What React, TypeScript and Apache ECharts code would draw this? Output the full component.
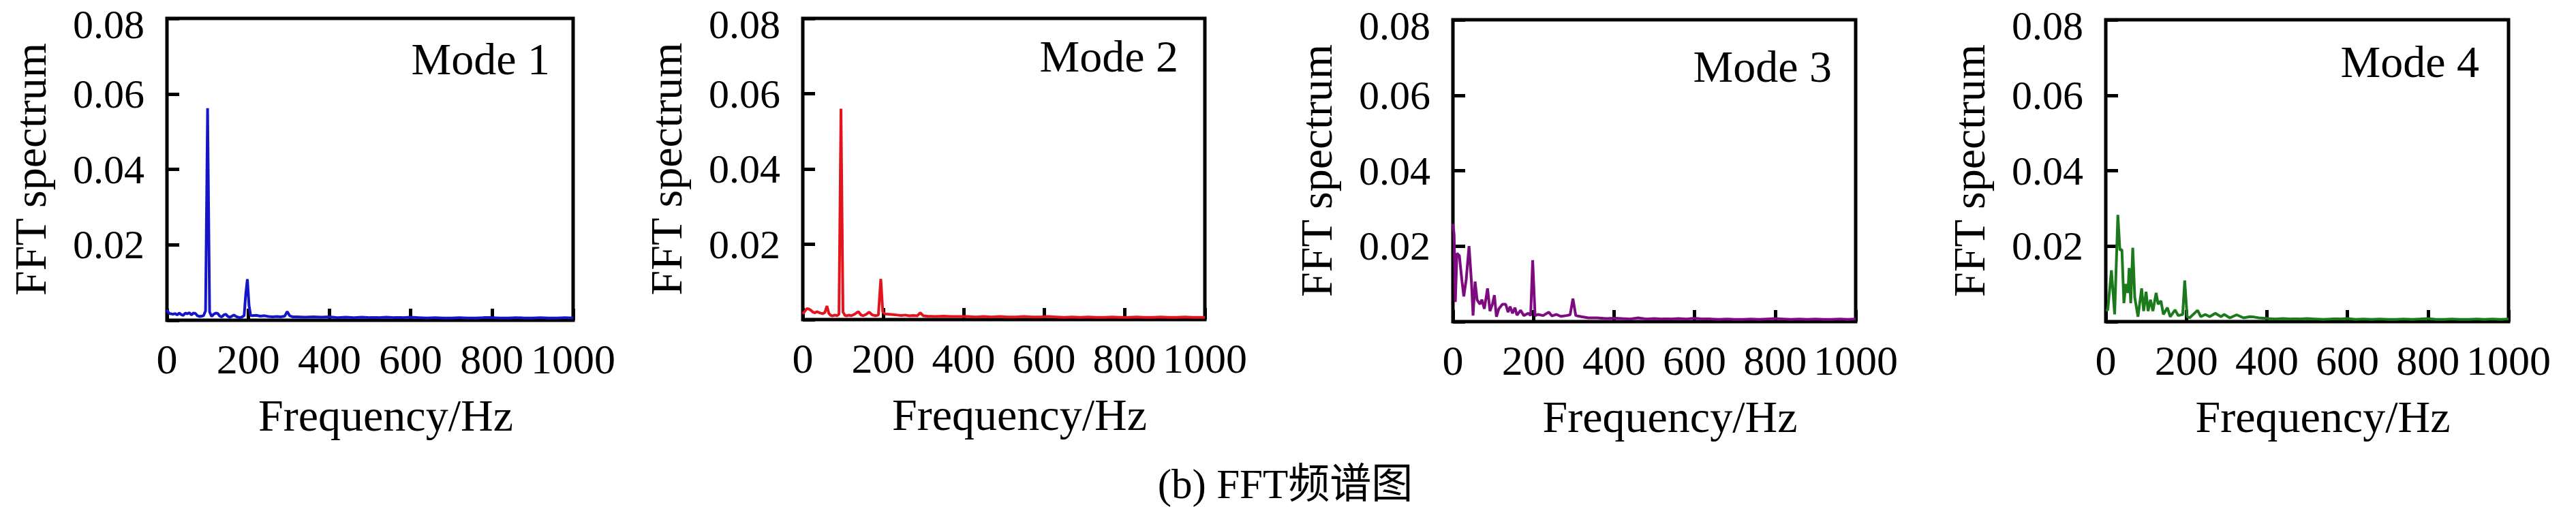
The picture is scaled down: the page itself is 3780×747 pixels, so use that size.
import React, { useEffect, useRef } from "react";
import * as echarts from "echarts";

// ---------- data (frequency in Hz, FFT amplitude) ----------
const xTicks = [0, 200, 400, 600, 800, 1000];
const yTicks = [0, 0.02, 0.04, 0.06, 0.08];
const modeNames = ["Mode 1", "Mode 2", "Mode 3", "Mode 4"];
const modeColors = ["#1414c8", "#e3141c", "#7e0a80", "#1c7a1c"];

const mode1Spectrum: [number, number][] = [
  [0, 0.0028], [5, 0.0018], [10, 0.0017], [15, 0.0016], [20, 0.0018], [25, 0.0014],
  [30, 0.0019], [35, 0.0015], [40, 0.0013], [45, 0.0019], [50, 0.0017], [55, 0.002],
  [60, 0.0014], [65, 0.0019], [70, 0.0018], [75, 0.0012], [80, 0.001], [85, 0.0011],
  [90, 0.0012], [95, 0.0025], [100, 0.0562], [105, 0.0022], [110, 0.001], [115, 0.0016],
  [120, 0.0019], [125, 0.0018], [130, 0.0011], [135, 0.0009], [140, 0.0014], [145, 0.0016],
  [150, 0.001], [155, 0.0008], [160, 0.0011], [165, 0.0014], [170, 0.001], [175, 0.0008],
  [180, 0.0007], [185, 0.0009], [190, 0.0012], [194, 0.007], [198, 0.0109], [202, 0.004],
  [206, 0.0013], [210, 0.0012], [220, 0.0013], [230, 0.0011], [240, 0.0012], [250, 0.001],
  [260, 0.0009], [270, 0.001], [280, 0.0009], [290, 0.0011], [296, 0.0023], [302, 0.0012],
  [310, 0.0009], [320, 0.0009], [340, 0.0008], [360, 0.0009], [380, 0.0008], [400, 0.0009],
  [420, 0.0007], [440, 0.0008], [460, 0.0007], [480, 0.0008], [500, 0.0007], [520, 0.0007],
  [540, 0.0008], [560, 0.0007], [580, 0.0007], [600, 0.0008], [620, 0.0007], [640, 0.0006],
  [660, 0.0007], [680, 0.0006], [700, 0.0006], [720, 0.0007], [740, 0.0006], [760, 0.0006],
  [780, 0.0007], [800, 0.0007], [820, 0.0006], [840, 0.0006], [860, 0.0007], [880, 0.0006],
  [900, 0.0006], [920, 0.0007], [940, 0.0006], [960, 0.0006], [980, 0.0007], [1000, 0.0006],
];

const mode2Spectrum: [number, number][] = [
  [0, 0.0015], [5, 0.0022], [10, 0.0029], [15, 0.0028], [20, 0.0025], [25, 0.002],
  [30, 0.0018], [35, 0.0021], [40, 0.0019], [45, 0.0017], [50, 0.0016], [55, 0.0019],
  [60, 0.0036], [65, 0.0016], [70, 0.0011], [75, 0.001], [80, 0.0012], [85, 0.001],
  [90, 0.0014], [95, 0.056], [100, 0.002], [105, 0.0011], [110, 0.001], [115, 0.0012],
  [120, 0.001], [130, 0.0015], [138, 0.0021], [145, 0.0012], [150, 0.001], [158, 0.0014],
  [165, 0.002], [172, 0.0013], [180, 0.001], [188, 0.0012], [194, 0.0108], [199, 0.002],
  [205, 0.0015], [215, 0.0014], [225, 0.0013], [235, 0.0012], [245, 0.0011], [255, 0.0012],
  [265, 0.001], [275, 0.0011], [285, 0.001], [292, 0.0018], [300, 0.001], [310, 0.0009],
  [330, 0.0008], [350, 0.0009], [370, 0.0008], [390, 0.0008], [410, 0.0008], [430, 0.0007],
  [450, 0.0008], [470, 0.0007], [490, 0.0008], [510, 0.0007], [530, 0.0007], [550, 0.0008],
  [570, 0.0007], [590, 0.0007], [610, 0.0008], [630, 0.0007], [650, 0.0006], [670, 0.0007],
  [690, 0.0006], [710, 0.0007], [730, 0.0006], [750, 0.0006], [770, 0.0007], [790, 0.0006],
  [810, 0.0006], [830, 0.0007], [850, 0.0006], [870, 0.0006], [890, 0.0007], [910, 0.0006],
  [930, 0.0006], [950, 0.0007], [970, 0.0006], [1000, 0.0006],
];

const mode3Spectrum: [number, number][] = [
  [0, 0.0259], [3, 0.023], [6, 0.0052], [10, 0.0181], [16, 0.0175], [22, 0.0112],
  [27, 0.0067], [33, 0.0112], [40, 0.02], [46, 0.0106], [50, 0.0016], [55, 0.0106],
  [60, 0.0058], [67, 0.0046], [72, 0.0058], [78, 0.0034], [86, 0.0088], [92, 0.0028],
  [98, 0.0046], [103, 0.007], [108, 0.0013], [114, 0.0034], [123, 0.0046], [131, 0.0046],
  [137, 0.0025], [142, 0.004], [148, 0.0022], [154, 0.0037], [159, 0.0017], [168, 0.003],
  [176, 0.0016], [187, 0.0022], [193, 0.0016], [198, 0.0163], [204, 0.0016], [212, 0.0019],
  [224, 0.0016], [238, 0.0025], [246, 0.0015], [257, 0.0019], [268, 0.0014], [282, 0.0016],
  [291, 0.0018], [298, 0.0061], [305, 0.0016], [319, 0.0013], [336, 0.001], [358, 0.001],
  [380, 0.0008], [403, 0.0009], [420, 0.0008], [440, 0.0007], [460, 0.001], [480, 0.0007],
  [500, 0.0008], [520, 0.0007], [540, 0.0007], [560, 0.0008], [580, 0.0007], [600, 0.0009],
  [620, 0.0007], [640, 0.0007], [660, 0.0006], [680, 0.0007], [700, 0.0006], [720, 0.0006],
  [740, 0.0007], [760, 0.0006], [780, 0.0007], [800, 0.0008], [820, 0.0007], [840, 0.0006],
  [860, 0.0007], [880, 0.0006], [900, 0.0007], [920, 0.0006], [940, 0.0006], [960, 0.0007],
  [980, 0.0006], [1000, 0.0007],
];

const mode4Spectrum: [number, number][] = [
  [0, 0.003], [5, 0.0031], [14, 0.0136], [22, 0.0019], [30, 0.0283], [35, 0.019],
  [40, 0.0191], [45, 0.0049], [50, 0.01], [55, 0.0076], [58, 0.0142], [62, 0.0049],
  [67, 0.0196], [72, 0.0064], [80, 0.0013], [89, 0.0088], [94, 0.0028], [100, 0.0079],
  [105, 0.0028], [111, 0.0058], [117, 0.0028], [125, 0.0076], [130, 0.0046], [137, 0.0055],
  [143, 0.0019], [153, 0.0037], [160, 0.0013], [172, 0.0031], [180, 0.0016], [191, 0.0019],
  [196, 0.0109], [202, 0.0013], [208, 0.001], [228, 0.003], [236, 0.0013], [247, 0.0019],
  [258, 0.0013], [272, 0.0022], [286, 0.0013], [294, 0.0019], [308, 0.001], [325, 0.0018],
  [342, 0.001], [358, 0.0013], [369, 0.0012], [380, 0.001], [403, 0.0008], [420, 0.0007],
  [440, 0.0008], [460, 0.0007], [480, 0.0007], [500, 0.0008], [520, 0.0007], [540, 0.0006],
  [560, 0.0007], [580, 0.0007], [600, 0.0008], [620, 0.0006], [640, 0.0007], [660, 0.0006],
  [680, 0.0007], [700, 0.0006], [720, 0.0006], [740, 0.0007], [760, 0.0006], [780, 0.0007],
  [800, 0.0008], [820, 0.0006], [840, 0.0006], [860, 0.0007], [880, 0.0006], [900, 0.0006],
  [920, 0.0007], [940, 0.0006], [960, 0.0007], [980, 0.0006], [1000, 0.0007],
];

const spectra = [mode1Spectrum, mode2Spectrum, mode3Spectrum, mode4Spectrum];
const caption = "(b) FFT频谱图";
const xAxisName = "Frequency/Hz";
const yAxisName = "FFT spectrum";

// ---------- layout ----------
const panels = [
  { left: 245, top: 27, width: 596, height: 443, modeX: 807, modeY: 86 },
  { left: 1178, top: 27, width: 590, height: 442, modeX: 1729, modeY: 82 },
  { left: 2132, top: 29, width: 591, height: 443, modeX: 2688, modeY: 97 },
  { left: 3090, top: 29, width: 591, height: 443, modeX: 3638, modeY: 90 },
];

const SERIF = "'Liberation Serif', 'Times New Roman', 'Noto Sans CJK SC', serif";
const Y_MAX = yTicks[yTicks.length - 1];

function buildOption(): echarts.EChartsOption {
  const grid = panels.map((p) => ({
    left: p.left,
    top: p.top,
    width: p.width,
    height: p.height,
    show: true,
    borderColor: "#000",
    borderWidth: 5,
    backgroundColor: "transparent",
    containLabel: false,
  }));
  const xAxis = panels.map((_, i) => ({
    type: "value" as const,
    gridIndex: i,
    min: xTicks[0],
    max: xTicks[xTicks.length - 1],
    interval: xTicks[1] - xTicks[0],
    axisLine: { show: false },
    axisTick: { show: true, inside: true, length: 17, lineStyle: { color: "#000", width: 5 } },
    splitLine: { show: false },
    axisLabel: {
      fontSize: 62,
      fontFamily: SERIF,
      color: "#000",
      margin: 26,
      formatter: (v: number) => String(v),
    },
    name: xAxisName,
    nameLocation: "middle" as const,
    nameGap: 106,
    nameTextStyle: { fontSize: 66, fontFamily: SERIF, color: "#000", padding: [0, 0, 0, 46] },
  }));
  const yAxis = panels.map((_, i) => ({
    type: "value" as const,
    gridIndex: i,
    min: yTicks[0],
    max: Y_MAX,
    interval: yTicks[1] - yTicks[0],
    axisLine: { show: false },
    axisTick: { show: true, inside: true, length: 18, lineStyle: { color: "#000", width: 5 } },
    splitLine: { show: false },
    axisLabel: {
      fontSize: 60,
      fontFamily: SERIF,
      color: "#000",
      margin: 33,
      formatter: (v: number) =>
        v === 0 ? "" : Math.abs(v - Y_MAX) < 1e-9 ? "{top|" + v.toFixed(2) + "}" : v.toFixed(2),
      rich: {
        top: { fontSize: 60, fontFamily: SERIF, color: "#000", padding: [18, 0, 0, 0] },
      },
    },
    name: yAxisName,
    nameLocation: "middle" as const,
    nameRotate: 90,
    nameGap: 168,
    nameTextStyle: { fontSize: 66, fontFamily: SERIF, color: "#000" },
  }));
  const series = spectra.map((d, i) => ({
    type: "line" as const,
    xAxisIndex: i,
    yAxisIndex: i,
    data: d,
    showSymbol: false,
    symbol: "none",
    lineStyle: { color: modeColors[i], width: 4 },
    itemStyle: { color: modeColors[i] },
    z: 1,
  }));
  const graphic: any[] = panels.map((p, i) => ({
    type: "text",
    x: p.modeX,
    y: p.modeY,
    style: {
      text: modeNames[i],
      fontSize: 66,
      fontFamily: SERIF,
      fill: "#000",
      textAlign: "right",
      textVerticalAlign: "middle",
    },
  }));
  graphic.push({
    type: "text",
    x: 1886,
    y: 710,
    style: {
      text: caption,
      fontSize: 61,
      fontFamily: SERIF,
      fill: "#000",
      textAlign: "center",
      textVerticalAlign: "middle",
    },
  });
  return {
    animation: false,
    backgroundColor: "#fff",
    grid,
    xAxis,
    yAxis,
    series,
    graphic,
  } as any;
}

export default function App() {
  const ref = useRef<HTMLDivElement>(null);
  useEffect(() => {
    if (!ref.current) return;
    const chart = echarts.init(ref.current, undefined, { renderer: "svg" });
    chart.setOption(buildOption());
    return () => chart.dispose();
  }, []);
  return (
    <div
      ref={ref}
      style={{ position: "absolute", left: 0, top: 0, width: 3780, height: 747, background: "#fff" }}
    />
  );
}
